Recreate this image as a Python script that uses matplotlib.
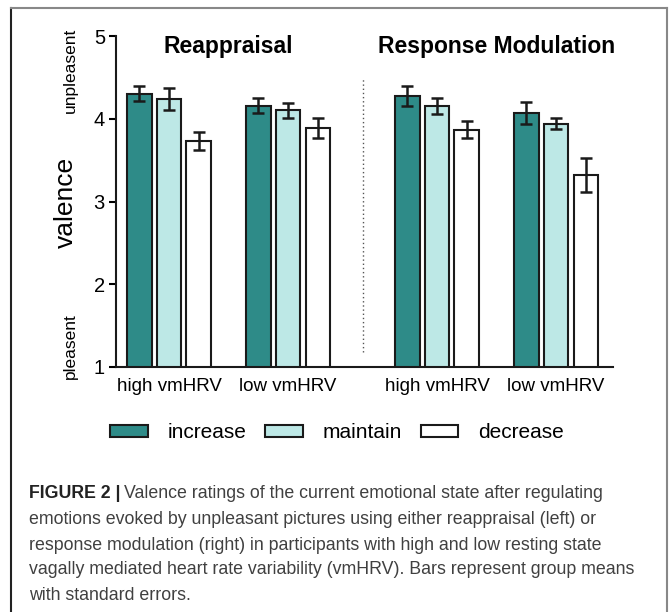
import matplotlib
matplotlib.use('Agg')
import matplotlib.pyplot as plt
from matplotlib.lines import Line2D
from matplotlib.patches import Patch
import numpy as np

plt.rcParams['font.family'] = ['Liberation Sans', 'DejaVu Sans']

# values
groups = ['high vmHRV', 'low vmHRV', 'high vmHRV', 'low vmHRV']
conditions = ['increase', 'maintain', 'decrease']
increase_mean = [4.30, 4.16, 4.28, 4.07]
increase_se = [0.09, 0.09, 0.12, 0.13]
maintain_mean = [4.24, 4.10, 4.15, 3.94]
maintain_se = [0.13, 0.09, 0.095, 0.065]
decrease_mean = [3.73, 3.89, 3.87, 3.32]
decrease_se = [0.11, 0.12, 0.105, 0.21]
panel_titles = ['Reappraisal', 'Response Modulation']

W, H = 670, 612
fig = plt.figure(figsize=(W / 100, H / 100), dpi=100)

# axes placed in pixel coordinates of the reference
ax_l, ax_r, ax_t, ax_b = 116, 613, 36, 367
ax = fig.add_axes([ax_l / W, (H - ax_b) / H, (ax_r - ax_l) / W, (ax_b - ax_t) / H])

centers = np.array([0, 4, 9, 13])
bar_w = 0.83
colors = ['#2e8b88', '#bde8e6', 'white']
means = [increase_mean, maintain_mean, decrease_mean]
ses = [increase_se, maintain_se, decrease_se]

for i in range(3):
    ax.bar(centers + (i - 1), means[i], width=bar_w, bottom=0,
           color=colors[i], edgecolor='#1a1a1a', linewidth=1.5, zorder=2)
    ax.errorbar(centers + (i - 1), means[i], yerr=ses[i], fmt='none',
                ecolor='#1a1a1a', elinewidth=1.8, capsize=4.5, capthick=1.8, zorder=3)

ax.set_ylim(1, 5)
ax.set_xlim(-1.78, 14.91)
ax.set_yticks([1, 2, 3, 4, 5])
ax.set_xticks(centers)
ax.set_xticklabels(groups, fontsize=13.5)
ax.tick_params(axis='x', length=0, pad=8)
ax.tick_params(axis='y', labelsize=14.5, length=5, width=1.5, pad=3)
for s in ['top', 'right']:
    ax.spines[s].set_visible(False)
for s in ['left', 'bottom']:
    ax.spines[s].set_linewidth(1.5)
    ax.spines[s].set_color('#1a1a1a')

# divider between the two strategies
ax.plot([6.5, 6.5], [1.18, 4.5], linestyle=(0, (1, 2)), color='#555555', linewidth=1)

ax.text(2, 4.87, panel_titles[0], ha='center', va='center', fontsize=16.5, fontweight='bold')
ax.text(11, 4.87, panel_titles[1], ha='center', va='center', fontsize=16.5, fontweight='bold')

fig.text(66 / W, (H - 202) / H, 'valence', rotation=90, ha='center', va='center', fontsize=19)
fig.text(70 / W, (H - 70) / H, 'unpleasent', rotation=90, ha='center', va='center', fontsize=12.5)
fig.text(70 / W, (H - 346) / H, 'pleasent', rotation=90, ha='center', va='center', fontsize=12.5)

handles = [Patch(facecolor=colors[i], edgecolor='#1a1a1a', linewidth=1.5) for i in range(3)]
fig.legend(handles, conditions, loc='center', bbox_to_anchor=(337 / W, (H - 433) / H),
           ncol=3, frameon=False, fontsize=15, handlelength=1.8, handleheight=0.45,
           handletextpad=0.95, columnspacing=0.9)

# caption
cap_lines = ['Valence ratings of the current emotional state after regulating',
             'emotions evoked by unpleasant pictures using either reappraisal (left) or',
             'response modulation (right) in participants with high and low resting state',
             'vagally mediated heart rate variability (vmHRV). Bars represent group means',
             'with standard errors.']
cap_y = [493, 519, 545, 570, 595]
bold = fig.text(29 / W, (H - cap_y[0]) / H, 'FIGURE 2 |', fontsize=12.8, fontweight='bold',
                color='#222222', va='center')
fig.canvas.draw()
bb = bold.get_window_extent(renderer=fig.canvas.get_renderer())
fig.text((bb.x1 + 4) / W, (H - cap_y[0]) / H, cap_lines[0], fontsize=12.8, color='#404040', va='center')
for line, y in zip(cap_lines[1:], cap_y[1:]):
    fig.text(29 / W, (H - y) / H, line, fontsize=12.8, color='#404040', va='center')

# frame around the figure panel
fig.add_artist(Line2D([11 / W, 11 / W], [0, (H - 8) / H], color='#222222', linewidth=1.5))
fig.add_artist(Line2D([11 / W, 667 / W], [(H - 8) / H, (H - 8) / H], color='#888888', linewidth=1.5))
fig.add_artist(Line2D([667 / W, 667 / W], [0, (H - 8) / H], color='#888888', linewidth=1.5))

fig.savefig('out.png', dpi=100)
